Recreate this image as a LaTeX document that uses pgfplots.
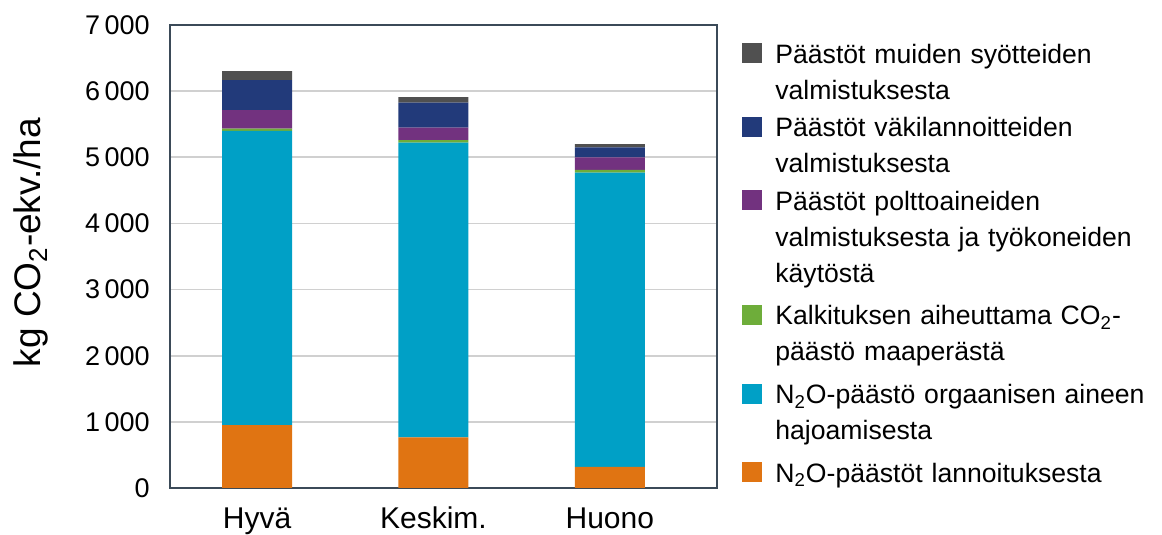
\documentclass[border=0pt]{standalone}
\usepackage{pgfplots}
\pgfplotsset{compat=1.18}
\usepackage{fontspec}
\setmainfont{Liberation Sans}

\definecolor{cGray}{HTML}{505050}
\definecolor{cNavy}{HTML}{223A7A}
\definecolor{cPurple}{HTML}{72327F}
\definecolor{cGreen}{HTML}{6EAD3A}
\definecolor{cCyan}{HTML}{00A0C6}
\definecolor{cOrange}{HTML}{E07412}
\definecolor{gridGray}{HTML}{D0D0D0}
\definecolor{frameCol}{HTML}{3B4A58}

\pgfplotsset{sqleg/.style={legend image code/.code={\fill[##1] (0pt,0pt) rectangle (10pt,10pt);}}}

\begin{document}
\begin{tikzpicture}
\path[use as bounding box] (-85pt,-23.5pt) rectangle (496pt,244pt);
\begin{axis}[
    at={(0,0)}, anchor=south west,
    scale only axis, width=273.5pt, height=231.5pt,
    ybar stacked, bar width=35pt,
    xmin=-0.494, xmax=2.608, ymin=0, ymax=7000,
    xtick={0,1,2}, xticklabels={Hyvä,Keskim.,Huono},
    ytick={0,1000,...,7000},
    ymajorgrids, grid style={draw=gridGray, line width=0.8pt},
    axis line style={draw=frameCol, line width=0.75pt},
    major tick length=0pt,
    tick label style={inner sep=0pt},
    yticklabel style={font=\fontsize{13.5}{16}\selectfont, anchor=east, xshift=-10pt},
    xticklabel style={font=\fontsize{15}{18}\selectfont, anchor=base, yshift=-20pt},
    /pgf/number format/assume math mode=true,
    /pgf/number format/1000 sep={\,},
    scaled y ticks=false,
    ylabel={kg CO\textsubscript{2}-ekv./ha},
    ylabel style={at={(axis description cs:-0.236,0.53)}, anchor=base, font=\fontsize{18.5}{22}\selectfont},
    reverse legend,
    legend style={at={(axis description cs:1.0457,0.969)}, anchor=north west,
        draw=none, fill=none, inner sep=0pt, row sep=5pt, column sep=4.5pt,
        font=\fontsize{13.3}{18}\selectfont,
        nodes={anchor=base west, text width=230pt, align=left, text depth={}}},
]
\addplot[fill=cOrange, draw=none, sqleg] coordinates {(0,950) (1,765) (2,320)};
\addlegendentry{N\textsubscript{2}O-päästöt lannoituksesta}
\addplot[fill=cCyan, draw=none, sqleg] coordinates {(0,4450) (1,4458) (2,4450)};
\addlegendentry{{N\textsubscript{2}O-päästö orgaanisen aineen\\hajoamisesta}}
\addplot[fill=cGreen, draw=none, sqleg] coordinates {(0,35) (1,37) (2,40)};
\addlegendentry{{Kalkituksen aiheuttama CO\textsubscript{2}-\\päästö maaperästä}}
\addplot[fill=cPurple, draw=none, sqleg] coordinates {(0,277) (1,190) (2,190)};
\addlegendentry{{Päästöt polttoaineiden\\valmistuksesta ja työkoneiden\\käytöstä}}
\addplot[fill=cNavy, draw=none, sqleg] coordinates {(0,456) (1,375) (2,150)};
\addlegendentry{{Päästöt väkilannoitteiden\\valmistuksesta}}
\addplot[fill=cGray, draw=none, sqleg] coordinates {(0,136) (1,85) (2,50)};
\addlegendentry{{Päästöt muiden syötteiden\\valmistuksesta}}
\end{axis}
\end{tikzpicture}
\end{document}
